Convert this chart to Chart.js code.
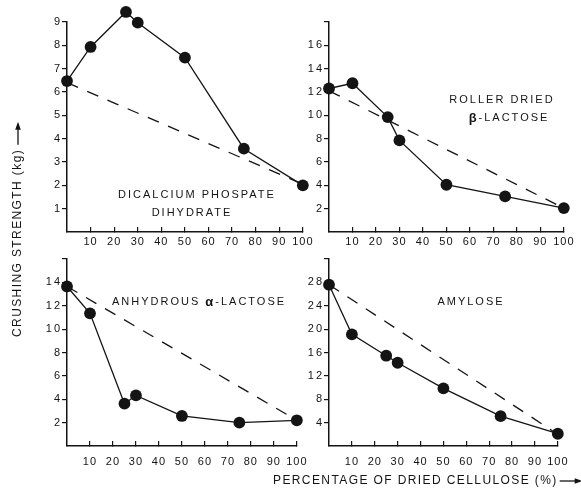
<!DOCTYPE html>
<html><head><meta charset="utf-8">
<script src="https://cdn.jsdelivr.net/npm/chart.js@4/dist/chart.umd.min.js"></script>
<style>
html,body{margin:0;padding:0;background:#fff;}
#wrap{position:relative;width:581px;height:492px;overflow:hidden;background:#fff;}
#wrap canvas{position:absolute;}
</style></head><body>
<div id="wrap">
<canvas id="bg" width="581" height="492" style="left:0;top:0"></canvas>
<canvas id="c1"></canvas>
<canvas id="c2"></canvas>
<canvas id="c3"></canvas>
<canvas id="c4"></canvas>
</div>
<script>
// ---------- data ----------
const percent = [0, 10, 25, 30, 50, 75, 100];
const dashX = [0, 100];

const dicalcium = [6.47, 7.93, 9.43, 8.97, 7.47, 3.57, 2.0];
const dicalciumDash = [6.4, 2.05];
const rollerDried = [12.3, 12.75, 9.85, 7.85, 4.05, 3.05, 2.05];
const rollerDash = [12.1, 2.05];
const anhydrous = [13.65, 11.35, 3.62, 4.33, 2.57, 2.0, 2.2];
const anhydrousDash = [13.65, 2.2];
const amylose = [27.6, 19.1, 15.45, 14.25, 9.85, 5.1, 2.1];
const amyloseDash = [27.6, 2.0];

const xTickValues = [10, 20, 30, 40, 50, 60, 70, 80, 90, 100];
const yTicks1 = [1, 2, 3, 4, 5, 6, 7, 8, 9];
const yTicks2 = [2, 4, 6, 8, 10, 12, 14, 16, 18];
const yTicks3 = [2, 4, 6, 8, 10, 12, 14, 16];
const yTicks4 = [4, 8, 12, 16, 20, 24, 28, 32];
const yLabelMax1 = 9, yLabelMax2 = 16, yLabelMax3 = 14, yLabelMax4 = 28;

const yTitle = 'CRUSHING STRENGTH (kg)';
const xTitle = 'PERCENTAGE OF DRIED CELLULOSE (%)';

// ---------- helpers ----------
const INK = '#141414';
const FONT = '"Liberation Sans", Arial, sans-serif';

function drawRich(ctx, segs, cx, cy, spacing) {
  ctx.save();
  ctx.letterSpacing = spacing + 'px';
  ctx.textBaseline = 'middle';
  ctx.textAlign = 'left';
  ctx.fillStyle = INK;
  let total = 0;
  const widths = segs.map(s => { ctx.font = s.font; const w = ctx.measureText(s.t).width; total += w; return w; });
  let x = cx - (total - spacing) / 2;
  segs.forEach((s, i) => { ctx.font = s.font; ctx.fillText(s.t, x, cy); x += widths[i]; });
  ctx.restore();
}
const REG = '11px ' + FONT;
const GRK = 'bold 13px ' + FONT;

function panel(id, box, area, yMin, yMax, yTicks, yLabelMax, values, dashVals, labels, xPad) {
  const cv = document.getElementById(id);
  cv.style.left = box[0] + 'px'; cv.style.top = box[1] + 'px';
  cv.width = box[2]; cv.height = box[3];
  const yW = area.l - box[0];
  const xH = box[1] + box[3] - area.b;
  const textPlugin = {
    id: 'txt' + id,
    afterLayout(chart) {
      Object.values(chart.scales).forEach(sc => {
        if (sc._patched) return;
        sc._patched = true;
        const proto = Object.getPrototypeOf(sc);
        const sp = sc.axis === 'y' ? '2px' : '1px';
        sc.drawLabels = function (a) {
          const c = this.ctx; c.save(); c.letterSpacing = sp;
          proto.drawLabels.call(this, a); c.restore();
        };
      });
    },
    beforeDatasetsDraw(chart) {
      // let markers sitting just outside the axes (e.g. above the top tick) still be drawn
      const ca = chart.chartArea;
      chart._savedArea = ca;
      chart.chartArea = { left: ca.left - 20, top: ca.top - 30, right: ca.right + 20, bottom: ca.bottom + 20,
                          width: ca.width + 40, height: ca.height + 50 };
    },
    afterDatasetsDraw(chart) {
      if (chart._savedArea) chart.chartArea = chart._savedArea;
    },
    afterDraw(chart) {
      const ctx = chart.ctx;
      ctx.save();
      ctx.translate(-box[0], -box[1]);
      labels.forEach(l => drawRich(ctx, l.segs, l.x, l.y, 2));
      ctx.restore();
    }
  };
  return new Chart(cv, {
    type: 'scatter',
    data: {
      datasets: [
        {
          data: percent.map((x, i) => ({ x: x, y: values[i] })),
          showLine: true, borderColor: INK, borderWidth: 1.3,
          pointRadius: 5.9, pointBackgroundColor: INK, pointBorderColor: INK, pointBorderWidth: 0,
          clip: false, order: 1
        },
        {
          data: dashX.map((x, i) => ({ x: x, y: dashVals[i] })),
          showLine: true, borderColor: INK, borderWidth: 1.3, borderDash: [12, 10],
          pointRadius: 0, clip: false, order: 2
        }
      ]
    },
    options: {
      responsive: false, animation: false, devicePixelRatio: 1,
      events: [],
      layout: { padding: { top: area.t - box[1], right: box[0] + box[2] - area.r, left: 0, bottom: 0 } },
      plugins: { legend: { display: false }, tooltip: { enabled: false }, title: { display: false } },
      scales: {
        x: {
          type: 'linear', position: 'bottom', min: 0, max: 100,
          afterFit: s => { s.height = xH; },
          afterBuildTicks: s => { s.ticks = xTickValues.map(v => ({ value: v })); },
          grid: { drawOnChartArea: false, drawTicks: true, tickLength: -5, color: INK, lineWidth: 1.2 },
          border: { display: true, color: INK, width: 1.5 },
          ticks: { color: INK, font: { family: FONT, size: 11 }, padding: xPad, maxRotation: 0, autoSkip: false,
                   callback: v => String(v) }
        },
        y: {
          type: 'linear', position: 'left', min: yMin, max: yMax,
          afterFit: s => { s.width = yW; },
          afterBuildTicks: s => { s.ticks = yTicks.map(v => ({ value: v })); },
          grid: { drawOnChartArea: false, drawTicks: true, tickLength: 5, color: INK, lineWidth: 1.2 },
          border: { display: true, color: INK, width: 1.5 },
          ticks: { color: INK, font: { family: FONT, size: 11 }, padding: 0, autoSkip: false,
                   callback: v => (v > yLabelMax ? '' : String(v)) }
        }
      }
    },
    plugins: [textPlugin]
  });
}

// ---------- panels ----------
panel('c1', [0, 0, 320, 256], { l: 67, r: 303, t: 22, b: 232 }, 0, 9, yTicks1, yLabelMax1,
  dicalcium, dicalciumDash,
  [{ x: 196, y: 195, segs: [{ t: 'DICALCIUM PHOSPATE', font: REG }] },
   { x: 191, y: 213, segs: [{ t: 'DIHYDRATE', font: REG }] }], 8);

panel('c2', [290, 0, 291, 256], { l: 329, r: 567, t: 22, b: 232 }, 0, 18, yTicks2, yLabelMax2,
  rollerDried, rollerDash,
  [{ x: 501, y: 100, segs: [{ t: 'ROLLER DRIED', font: REG }] },
   { x: 508, y: 118, segs: [{ t: 'β', font: GRK }, { t: '-LACTOSE', font: REG }] }], 8);

panel('c3', [0, 250, 320, 222], { l: 67, r: 303, t: 259, b: 446 }, 0, 16, yTicks3, yLabelMax3,
  anhydrous, anhydrousDash,
  [{ x: 198, y: 302, segs: [{ t: 'ANHYDROUS ', font: REG }, { t: 'α', font: GRK }, { t: '-LACTOSE', font: REG }] }], 14);

panel('c4', [290, 250, 291, 222], { l: 329, r: 567, t: 259, b: 446 }, 0, 32, yTicks4, yLabelMax4,
  amylose, amyloseDash,
  [{ x: 470, y: 302, segs: [{ t: 'AMYLOSE', font: REG }] }], 14);

// ---------- axis titles ----------
(function () {
  const c = document.getElementById('bg').getContext('2d');
  c.fillStyle = INK; c.strokeStyle = INK;
  c.font = '12px ' + FONT;
  c.letterSpacing = '1.4px';
  c.textBaseline = 'middle';
  c.textAlign = 'left';
  // y title (rotated)
  c.save();
  c.translate(18, 337);
  c.rotate(-Math.PI / 2);
  c.fillText(yTitle, 0, 0);
  let w = c.measureText(yTitle).width;
  c.lineWidth = 1.3;
  c.beginPath(); c.moveTo(w + 4, 0); c.lineTo(w + 22, 0); c.stroke();
  c.beginPath(); c.moveTo(w + 27, 0); c.lineTo(w + 19, -2.8); c.lineTo(w + 19, 2.8); c.closePath(); c.fill();
  c.restore();
  // x title
  c.fillText(xTitle, 273, 481);
  w = c.measureText(xTitle).width;
  c.lineWidth = 1.3;
  c.beginPath(); c.moveTo(273 + w + 2, 481); c.lineTo(273 + w + 20, 481); c.stroke();
  c.beginPath(); c.moveTo(273 + w + 25, 481); c.lineTo(273 + w + 17, 478.2); c.lineTo(273 + w + 17, 483.8); c.closePath(); c.fill();
})();
</script>
</body></html>
